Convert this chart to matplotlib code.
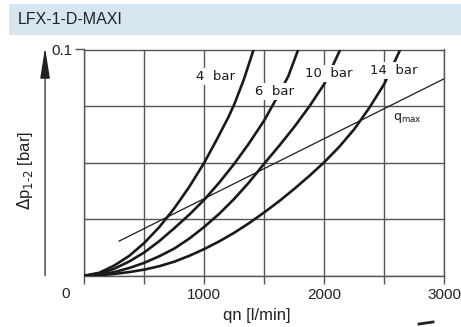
import matplotlib
matplotlib.use("Agg")
import matplotlib.pyplot as plt
from matplotlib.patches import Rectangle
from matplotlib.lines import Line2D

# ---- data ----
title = "LFX-1-D-MAXI"
x_label = "qn [l/min]"
y_label = r"$\Delta$p$_{\text{1-2}}$ [bar]"

flow_4 = [0, 125, 250, 375, 500, 625, 750, 875, 1000, 1100, 1200, 1250, 1330, 1411]
dp_4 = [0, 0.0013, 0.0045, 0.0088, 0.0145, 0.0215, 0.0298, 0.0393, 0.050, 0.0598,
        0.070, 0.0758, 0.0868, 0.100]

flow_6 = [0, 125, 250, 375, 500, 625, 750, 875, 1000, 1125, 1250, 1375, 1500, 1600,
          1700, 1783]
dp_6 = [0, 0.0009, 0.0031, 0.0063, 0.0103, 0.0153, 0.0210, 0.0270, 0.0336, 0.0412,
        0.0495, 0.0587, 0.0687, 0.0782, 0.0882, 0.100]

flow_10 = [0, 125, 250, 375, 500, 625, 750, 875, 1000, 1125, 1250, 1375, 1500, 1625,
           1750, 1875, 2000, 2133]
dp_10 = [0, 0.0005, 0.0016, 0.0034, 0.0057, 0.0086, 0.0120, 0.0164, 0.0216, 0.0274,
         0.0340, 0.0414, 0.0496, 0.0575, 0.0658, 0.0748, 0.0848, 0.100]

flow_14 = [0, 125, 250, 375, 500, 625, 750, 875, 1000, 1125, 1250, 1375, 1500, 1625,
           1750, 1875, 2000, 2125, 2250, 2375, 2500, 2633]
dp_14 = [0, 0.0002, 0.0008, 0.0016, 0.0027, 0.0042, 0.0062, 0.0088, 0.0118, 0.0152,
         0.0190, 0.0233, 0.0280, 0.0330, 0.0384, 0.0441, 0.0502, 0.0570, 0.0648,
         0.0742, 0.0848, 0.100]

qmax_flow = [290, 3000]
qmax_dp = [0.0153, 0.0871]

curve_labels = ["4  bar", "6  bar", "10  bar", "14  bar"]
label_pos = [(1097, 0.0881), (1589, 0.0815), (2040, 0.0894), (2581, 0.0907)]
qmax_label = r"q$_{\mathregular{max}}$"
qmax_label_pos = (2689, 0.0695)

x_ticks = [0, 500, 1000, 1500, 2000, 2500, 3000]
x_tick_labels = ["", "", "1000", "", "2000", "", "3000"]
y_ticks = [0, 0.025, 0.05, 0.075, 0.1]
y_tick_labels = ["", "", "", "", "0.1"]

# ---- figure ----
fig = plt.figure(figsize=(4.61, 3.27), dpi=100)
fig.patch.set_facecolor("white")

# title banner
fig.add_artist(Rectangle((9 / 461, 1 - 35 / 327), 1 - 9 / 461, 31 / 327,
                         transform=fig.transFigure, facecolor="#d5e6f1",
                         edgecolor="none", zorder=0))
fig.text(18 / 461, 1 - 20 / 327, title, ha="left", va="center",
         fontsize=11.5, family=["Liberation Sans", "DejaVu Sans"], color="#222222")

ax = fig.add_axes([84.3 / 461, 1 - 275.7 / 327, 360 / 461, 226.2 / 327])
ax.set_xlim(0, 3000)
ax.set_ylim(0, 0.1)

grid_col = "#555555"
for s in ax.spines.values():
    s.set_color(grid_col)
    s.set_linewidth(1.0)

ax.set_xticks(x_ticks)
ax.set_xticklabels(x_tick_labels)
ax.set_yticks(y_ticks)
ax.set_yticklabels(y_tick_labels)
ax.grid(True, color=grid_col, linewidth=1.0)
ax.tick_params(axis="x", direction="out", length=5.5, width=1.0, color=grid_col,
               pad=3, labelsize=11)
ax.tick_params(axis="y", direction="out", length=6.5, width=1.0, color=grid_col,
               pad=2, labelsize=11)
for lab in ax.get_xticklabels() + ax.get_yticklabels():
    lab.set_family(["Liberation Sans", "DejaVu Sans"])
    lab.set_color("#222222")
for i, t in enumerate(ax.yaxis.get_major_ticks()):
    if i != len(y_ticks) - 1:
        t.tick1line.set_visible(False)

# curves
curve_kw = dict(color="#1a1a1a", linewidth=1.9, solid_capstyle="butt",
                solid_joinstyle="round", zorder=3)
ax.plot(flow_4, dp_4, **curve_kw)
ax.plot(flow_6, dp_6, **curve_kw)
ax.plot(flow_10, dp_10, **curve_kw)
ax.plot(flow_14, dp_14, **curve_kw)
ax.plot(qmax_flow, qmax_dp, color="#1a1a1a", linewidth=0.9, zorder=3)

# curve labels with white boxes
for txt, (qx, py) in zip(curve_labels, label_pos):
    ax.text(qx, py, txt, ha="center", va="center", fontsize=9.5,
            family="DejaVu Sans", color="#1a1a1a", zorder=5,
            bbox=dict(facecolor="white", edgecolor="none", pad=1.2))
ax.text(qmax_label_pos[0], qmax_label_pos[1], qmax_label, ha="center", va="center",
        fontsize=9, family="DejaVu Sans", color="#1a1a1a", zorder=5,
        bbox=dict(facecolor="white", edgecolor="none", pad=1.0))

# origin label
ax.text(-152, -0.0081, "0", ha="center", va="center", fontsize=11,
        family=["Liberation Sans", "DejaVu Sans"], color="#222222", clip_on=False)

# axis labels
ax.text(0.4797, -0.174, x_label, transform=ax.transAxes, ha="center", va="center",
        fontsize=12, family=["Liberation Sans", "DejaVu Sans"], color="#222222")
ax.text(-0.165, 0.463, y_label, transform=ax.transAxes, ha="center", va="center",
        rotation=90, fontsize=12, family=["Liberation Sans", "DejaVu Sans"],
        color="#222222")

# y-axis arrow
ax.annotate("", xy=(-0.109, 1.008), xytext=(-0.109, 0.0),
            xycoords="axes fraction", textcoords="axes fraction",
            arrowprops=dict(arrowstyle="-|>,head_length=1.9,head_width=0.3",
                            mutation_scale=10, color="#222222", lw=0.9,
                            shrinkA=0, shrinkB=0),
            annotation_clip=False)

# small cut-off mark at bottom right of the reference
fig.add_artist(Line2D([419 / 461, 433 / 461], [1 - 324 / 327, 1 - 322 / 327],
                      transform=fig.transFigure, color="#222222", linewidth=2.0))

fig.savefig("out.png", dpi=100)
